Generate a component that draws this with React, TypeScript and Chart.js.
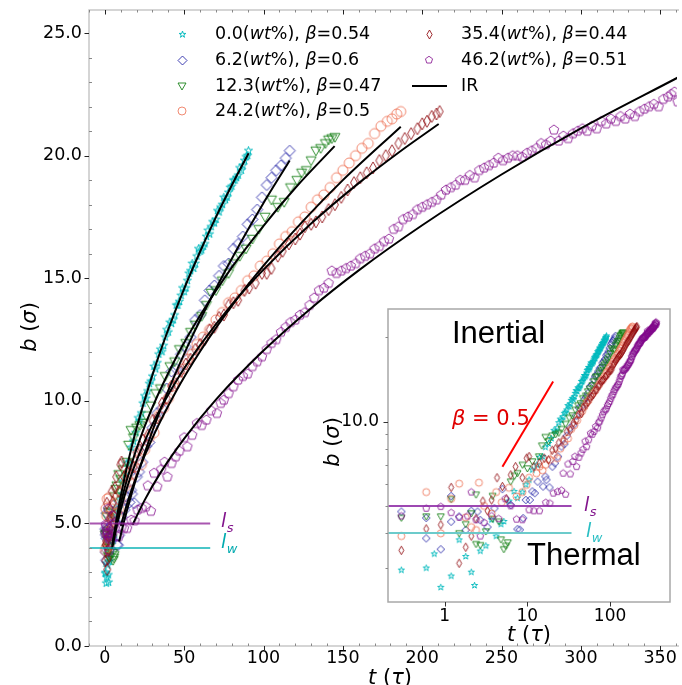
import React, { useEffect, useRef } from 'react';
import { Chart, registerables } from 'chart.js';

Chart.register(...registerables);

type Pt = [number, number];

// ---------------- data ----------------
const seriesNames = ['0.0', '6.2', '12.3', '24.2', '35.4', '46.2'];
const seriesBetas = ['0.54', '0.6', '0.47', '0.5', '0.44', '0.51'];
const fitName = 'IR';

const wt00: Pt[] = [
  [0.3, 2.95], [0.6, 3.0], [0.75, 3.37], [0.9, 2.56], [1.2, 2.81], [1.5, 3.78], [1.8, 3.3], [2.1, 2.9], [2.3, 2.6],
  [2.7, 3.45], [3.15, 3.6], [3.7, 4.46], [4.2, 3.9], [4.8, 4.3], [5.2, 4.4], [6.0, 5.2], [6.9, 5.63], [7.6, 5.33],
  [8.7, 5.6], [9.6, 5.95], [10.5, 6.19], [11.5, 6.72], [13, 7.0], [14, 7.45], [15.3, 7.5], [16.5, 8.1], [18, 8.35],
  [19.5, 8.7], [21, 9.3], [22, 9.2], [23, 9.5], [24, 9.9], [25, 10.2], [26, 10.1], [27, 10.4], [28, 10.7], [29, 10.8],
  [30, 11.0], [31, 11.4], [32, 11.3], [33, 11.55], [34, 11.9], [35, 12.1], [36, 12.0], [37, 12.25], [38, 12.6],
  [39, 12.9], [40, 12.8], [41, 13.2], [42, 13.15], [43, 13.3], [44, 13.5], [45, 13.9], [46, 13.9], [47, 14.05],
  [48, 14.3], [49, 14.6], [50, 14.45], [51, 14.6], [52, 14.9], [53, 15.2], [54, 15.3], [55, 15.6], [56, 15.4],
  [57, 15.6], [58, 15.9], [59, 16.2], [60, 16.1], [61, 16.15], [62, 16.3], [63, 16.4], [64, 16.7], [65, 16.95],
  [66, 16.8], [67, 17.1], [68, 17.3], [69, 17.25], [70, 17.4], [71, 17.75], [72, 17.7], [73, 17.9], [74, 18.0],
  [75, 18.3], [76, 18.2], [77, 18.3], [78, 18.5], [79, 18.7], [80, 18.75], [81, 19.0], [82, 19.0], [83, 19.1],
  [84, 19.2], [85, 19.5], [86, 19.4], [87, 19.6], [88, 19.8], [89, 19.95], [90, 20.0], [90.5, 20.2],
];
const wt62: Pt[] = [
  [0.3, 4.77], [0.6, 4.53], [0.6, 3.83], [0.9, 3.5], [1.2, 4.39], [1.2, 5.42], [1.5, 4.58], [1.8, 4.1], [2.1, 4.8],
  [2.5, 4.77], [2.7, 4.45], [3.3, 4.2], [4.0, 4.9], [5.0, 5.74], [6.3, 5.04], [7.6, 4.13], [8.1, 4.11], [8.9, 4.52],
  [9.6, 5.25], [10.7, 5.25], [11.5, 5.63], [12.3, 5.55], [13.3, 6.1], [15.5, 5.86], [16.5, 6.36], [17, 6.2], [18.5, 5.82],
  [20.1, 6.9], [21.5, 7.1], [23.5, 7.5], [25.9, 8.14], [28, 8.3], [30, 8.9], [33, 9.5], [36, 9.7], [39, 10.5], [42, 11.2],
  [45, 11.3], [48, 11.9], [51, 12.2], [54, 12.6], [57, 13.3], [60, 13.5], [63, 14.1], [66, 14.5], [69, 14.7], [72, 15.1],
  [75, 15.5], [78, 15.6], [81, 16.2], [84, 16.4], [87, 16.7], [90, 17.2], [93, 17.4], [96, 17.8], [99, 18.3], [102, 18.8],
  [105, 19.1], [108, 19.4], [111, 19.6], [114, 19.9], [116.5, 20.2],
];
const wt123: Pt[] = [
  [0.3, 4.53], [0.6, 4.58], [0.9, 4.58], [1.2, 5.28], [1.5, 3.99], [1.8, 4.3], [2.1, 4.7], [2.4, 3.65], [2.4, 5.48],
  [2.7, 3.62], [3.15, 4.05], [3.8, 5.42], [3.8, 4.49], [4.55, 4.39], [4.8, 3.79], [5.2, 3.5], [5.5, 3.6], [5.8, 3.7],
  [6.3, 6.1], [7.0, 6.4], [7.6, 6.54], [8.75, 7.0], [10, 6.8], [11.5, 7.2], [13.8, 7.5], [15, 8.2], [16.5, 8.8], [18, 8.5],
  [20, 8.9], [22, 9.0], [24, 9.1], [26, 9.4], [29, 9.8], [32, 10.3], [35, 10.5], [38, 11.0], [41, 11.4], [44, 11.6],
  [47, 12.1], [51, 12.35], [54, 12.8], [57, 13.1], [61, 13.45], [64, 13.9], [67, 14.4], [70, 14.5], [74, 14.9], [78, 15.2],
  [81, 15.6], [85, 15.9], [89, 16.2], [93, 16.6], [97, 17.0], [101, 17.5], [105, 18.2], [109, 17.9], [113, 18.1],
  [117, 18.7], [121, 19.0], [124, 19.3], [127, 19.4], [130, 19.8], [133, 20.2], [136, 20.3], [139, 20.5], [141, 20.65],
  [143, 20.7], [145, 20.75],
];
const wt242: Pt[] = [
  [0.3, 3.9], [0.6, 5.6], [0.9, 3.99], [1.2, 5.3], [1.5, 6.0], [1.8, 4.55], [2.1, 4.2], [2.4, 4.1], [2.6, 6.05], [3.0, 5.0],
  [3.7, 4.7], [4.2, 5.6], [4.9, 5.15], [6.0, 5.8], [7.4, 5.4], [8.7, 5.6], [9.8, 5.94], [10.5, 6.3], [12.9, 6.54], [14, 6.9],
  [15.3, 6.7], [16.5, 7.0], [18.8, 7.3], [21, 7.6], [23, 7.4], [25, 8.0], [28, 8.5], [31, 8.7], [34, 9.4], [37, 9.7],
  [40, 10.1], [43, 10.6], [46, 10.9], [49, 11.3], [52, 11.7], [55, 11.9], [58, 12.3], [62, 12.6], [66, 12.9], [70, 13.3],
  [74, 13.6], [78, 14.0], [82, 14.2], [86, 14.5], [90, 14.9], [94, 15.1], [98, 15.5], [102, 15.7], [106, 16.0], [110, 16.4],
  [114, 16.7], [118, 16.9], [122, 17.3], [126, 17.5], [130, 17.9], [134, 18.2], [138, 18.4], [142, 18.7], [146, 19.1],
  [150, 19.4], [154, 19.7], [158, 20.0], [162, 20.3], [166, 20.5], [170, 20.9], [174, 21.2], [178, 21.4], [181, 21.5],
  [184, 21.7], [186.5, 21.8],
];
const wt354: Pt[] = [
  [0.3, 3.47], [0.6, 4.14], [0.9, 4.28], [1.2, 5.82], [1.5, 3.12], [1.8, 3.56], [2.1, 3.9], [2.4, 4.5], [2.9, 5.2],
  [3.3, 4.8], [3.7, 5.25], [4.3, 6.3], [5.0, 5.86], [5.6, 5.3], [6.3, 6.45], [7.2, 6.9], [8.7, 6.3], [9.8, 7.4],
  [10.5, 7.5], [12, 6.9], [14, 7.1], [16, 7.4], [18, 7.3], [20, 7.9], [22, 8.0], [24, 8.4], [27, 8.6], [30, 9.2],
  [33, 9.3], [36, 9.9], [39, 10.1], [42, 10.6], [45, 10.7], [48, 11.2], [51, 11.5], [54, 11.7], [57, 12.1], [60, 12.3],
  [63, 12.5], [66, 12.9], [69, 13.0], [72, 13.4], [75, 13.5], [78, 13.9], [81, 14.0], [84, 14.1], [88, 14.5], [91, 14.6],
  [95, 14.8], [99, 15.2], [102, 15.2], [105, 15.4], [109, 15.9], [112, 16.1], [116, 16.4], [120, 16.6], [123, 16.8],
  [126, 17.1], [130, 17.2], [133, 17.3], [137, 17.5], [141, 17.8], [145, 18.0], [149, 18.3], [153, 18.6], [157, 18.9],
  [161, 19.1], [165, 19.3], [169, 19.5], [173, 19.8], [177, 20.0], [181, 20.2], [185, 20.5], [189, 20.7], [193, 20.9],
  [197, 21.1], [200, 21.3], [203, 21.4], [206, 21.6], [209, 21.7], [211, 21.8],
];
const wt462: Pt[] = [
  [0.3, 4.6], [0.6, 4.9], [0.9, 4.97], [1.2, 4.73], [1.5, 4.55], [1.9, 4.6], [2.1, 5.6], [2.4, 4.46], [2.7, 3.9],
  [3.0, 4.36], [3.7, 4.6], [4.5, 4.5], [5.4, 5.3], [6.3, 5.0], [7.4, 4.48], [8.7, 4.46], [10.5, 4.84], [12, 4.8],
  [14, 4.8], [16.7, 5.14], [18.7, 5.11], [20.6, 5.55], [23.2, 5.62], [25.8, 5.68], [27.1, 6.54], [29, 5.5], [31, 7.05],
  [33, 6.5], [35.5, 7.2], [37.6, 7.5], [39.4, 6.9], [42, 7.45], [44.6, 7.72], [47, 7.95], [50, 8.5], [52, 8.13],
  [55, 8.6], [58, 9.08], [61, 9.0], [64, 9.22], [67, 9.6], [70.6, 9.49], [73, 9.9], [75, 10.03], [78, 10.3], [81, 10.58],
  [84, 10.85], [87, 11.0], [90, 11.1], [93, 11.4], [96, 11.6], [99, 11.8], [102, 12.1], [105, 12.35], [108, 12.5],
  [111, 12.8], [114, 13.0], [117, 13.2], [120, 13.3], [123, 13.5], [126, 13.6], [129, 13.9], [132, 14.2], [135, 14.5],
  [138, 14.6], [141, 14.8], [143, 15.3], [146, 15.2], [149, 15.3], [152, 15.4], [155, 15.5], [158, 15.6], [161, 15.8],
  [164, 15.9], [167, 16.0], [170, 16.2], [173, 16.3], [176, 16.5], [179, 16.6], [182, 17.0], [185, 17.1], [188, 17.4],
  [191, 17.5], [194, 17.6], [197, 17.8], [200, 17.9], [203, 18.0], [206, 18.1], [209, 18.2], [212, 18.4], [215, 18.6],
  [218, 18.7], [221, 18.8], [224, 19.0], [227, 19.0], [230, 19.2], [233, 19.1], [236, 19.4], [239, 19.5], [242, 19.6],
  [245, 19.7], [248, 19.9], [251, 19.8], [254, 19.9], [257, 20.0], [260, 20.0], [263, 19.95], [266, 20.1], [269, 20.2],
  [272, 20.3], [275, 20.5], [278, 20.45], [281, 20.6], [283, 21.05], [286, 20.6], [289, 20.8], [292, 20.7], [295, 20.9],
  [298, 21.0], [301, 21.1], [304, 21.0], [307, 21.2], [310, 21.1], [313, 21.4], [316, 21.3], [319, 21.5], [322, 21.4],
  [325, 21.6], [328, 21.5], [331, 21.7], [334, 21.6], [337, 21.8], [340, 21.9], [343, 22.0], [346, 22.1], [349, 22.0],
  [352, 22.3], [355, 22.4], [357, 22.5], [359, 22.6], [361, 22.2],
];

// IR fit curves
const fit00: Pt[] = [[4.5, 3.97], [6, 4.64], [8, 5.42], [10, 6.11], [15, 7.61], [20, 8.89], [30, 11.06], [40, 12.92], [50, 14.58], [60, 16.08], [70, 17.49], [80, 18.79], [90.6, 20.1]];
const fit62: Pt[] = [[9, 4.26], [12, 5.06], [16, 6.02], [20, 6.88], [30, 8.78], [40, 10.43], [55, 12.62], [70, 14.58], [85, 16.39], [100, 18.07], [116.5, 19.8]];
const fit123: Pt[] = [[5, 4.19], [8, 5.23], [12, 6.33], [16, 7.24], [20, 8.05], [30, 9.74], [45, 11.78], [60, 13.48], [80, 15.44], [100, 17.14], [120, 18.68], [144.8, 20.39]];
const fit242: Pt[] = [[10, 4.9], [15, 6.01], [20, 6.94], [30, 8.49], [45, 10.4], [60, 12.01], [80, 13.87], [100, 15.51], [125, 17.34], [150, 19.0], [186.5, 21.18]];
const fit354: Pt[] = [[5, 4.11], [8, 5.05], [12, 6.04], [16, 6.86], [20, 7.56], [30, 9.04], [45, 10.81], [60, 12.26], [80, 13.92], [100, 15.35], [130, 17.23], [160, 18.88], [185, 20.12], [210.4, 21.29]];
const fit462: Pt[] = [[17.5, 4.95], [25, 5.94], [35, 7.06], [50, 8.46], [70, 10.05], [100, 12.05], [130, 13.78], [160, 15.32], [200, 17.16], [250, 19.23], [300, 21.11], [361, 23.18]];

// reference levels and slope guide
const lsValue = 5;
const lwValue = 4;
const lsLineMain: Pt[] = [[-10, lsValue], [66.4, lsValue]];
const lwLineMain: Pt[] = [[-10, lwValue], [66.4, lwValue]];
const lsLineInset: Pt[] = [[0.2, lsValue], [34.2, lsValue]];
const lwLineInset: Pt[] = [[0.2, lwValue], [34.2, lwValue]];
const slopeGuide: Pt[] = [[5.0, 6.9], [20.5, 13.9]];

// ticks
const xTicksMain = [0, 50, 100, 150, 200, 250, 300, 350];
const yTicksMain = [0, 5, 10, 15, 20, 25];
const xTicksInset = [1, 10, 100];
const yTicksInset = [10];
const yMinorInset = [3, 4, 5, 6, 7, 8, 9, 20];

// ---------------- styling ----------------
const W = 682;
const H = 685;
const FONT = '"DejaVu Sans", sans-serif';

const colors = [
  'rgba(0,185,190,0.95)',
  'rgba(30,30,165,0.85)',
  'rgba(15,125,15,0.85)',
  'rgba(238,110,80,0.8)',
  'rgba(145,10,15,0.85)',
  'rgba(130,10,140,0.8)',
];
const shapes = ['star', 'diamond', 'tridown', 'circle', 'thin', 'pentagon'];
const mainSizes = [8.5, 11, 10, 10, 12, 10];
const insetSizes = [6.5, 7.5, 7, 7, 8.5, 7];
const legendSizes = [7, 9, 8, 8, 9, 7.5];

function makeMarker(shape: string, color: string, size: number, lw = 1): HTMLCanvasElement {
  const s = Math.ceil(size + 4);
  const c = document.createElement('canvas');
  c.width = s;
  c.height = s;
  const g = c.getContext('2d') as CanvasRenderingContext2D;
  g.strokeStyle = color;
  g.lineWidth = lw;
  g.lineJoin = 'miter';
  const cx = s / 2;
  const cy = s / 2;
  const r = size / 2;
  g.beginPath();
  if (shape === 'circle') {
    g.arc(cx, cy, r, 0, Math.PI * 2);
  } else {
    let pts: Pt[] = [];
    if (shape === 'star') {
      for (let i = 0; i < 10; i++) {
        const a = -Math.PI / 2 + (i * Math.PI) / 5;
        const rr = i % 2 === 0 ? r : r * 0.382;
        pts.push([cx + rr * Math.cos(a), cy + rr * Math.sin(a)]);
      }
    } else if (shape === 'pentagon') {
      for (let i = 0; i < 5; i++) {
        const a = -Math.PI / 2 + (i * 2 * Math.PI) / 5;
        pts.push([cx + r * Math.cos(a), cy + r * Math.sin(a)]);
      }
    } else if (shape === 'diamond') {
      pts = [[cx, cy - r], [cx + r, cy], [cx, cy + r], [cx - r, cy]];
    } else if (shape === 'thin') {
      pts = [[cx, cy - r], [cx + r * 0.58, cy], [cx, cy + r], [cx - r * 0.58, cy]];
    } else if (shape === 'tridown') {
      pts = [[cx - r, cy - r * 0.75], [cx + r, cy - r * 0.75], [cx, cy + r]];
    }
    pts.forEach((p, i) => (i ? g.lineTo(p[0], p[1]) : g.moveTo(p[0], p[1])));
    g.closePath();
  }
  g.stroke();
  return c;
}

type Seg = [string, boolean];
function drawSegs(ctx: CanvasRenderingContext2D, segs: Seg[], x: number, y: number, size: number, color: string, align: 'left' | 'center') {
  const widths = segs.map(([t, it]) => {
    ctx.font = `${it ? 'italic ' : ''}${size}px ${FONT}`;
    return ctx.measureText(t).width;
  });
  const total = widths.reduce((a, b) => a + b, 0);
  let cx = align === 'center' ? x - total / 2 : x;
  ctx.fillStyle = color;
  ctx.textAlign = 'left';
  segs.forEach(([t, it], i) => {
    ctx.font = `${it ? 'italic ' : ''}${size}px ${FONT}`;
    ctx.fillText(t, cx, y);
    cx += widths[i];
  });
}

function drawSubLabel(ctx: CanvasRenderingContext2D, main: string, sub: string, x: number, y: number, size: number, color: string) {
  ctx.fillStyle = color;
  ctx.textAlign = 'left';
  ctx.textBaseline = 'alphabetic';
  ctx.font = `italic ${size}px ${FONT}`;
  ctx.fillText(main, x, y);
  const w = ctx.measureText(main).width;
  ctx.font = `italic ${Math.round(size * 0.7)}px ${FONT}`;
  ctx.fillText(sub, x + w + 0.5, y + size * 0.27);
}

const toXY = (d: Pt[]) => d.map(([x, y]) => ({ x, y }));

function zeroPad(s: any) {
  s.paddingTop = 0;
  s.paddingBottom = 0;
  s.paddingLeft = 0;
  s.paddingRight = 0;
}

export default function App() {
  const mainRef = useRef<HTMLCanvasElement>(null);
  const insetRef = useRef<HTMLCanvasElement>(null);

  useEffect(() => {
    const allData = [wt00, wt62, wt123, wt242, wt354, wt462];
    const fits = [fit00, fit62, fit123, fit242, fit354, fit462];
    const mainMarkers = shapes.map((s, i) => makeMarker(s, colors[i], mainSizes[i], 1));
    const insetMarkers = shapes.map((s, i) => makeMarker(s, colors[i], insetSizes[i], 1));
    const legendMarkers = shapes.map((s, i) => makeMarker(s, colors[i], legendSizes[i], 1));

    const mainPlugin = {
      id: 'mainDecor',
      beforeDraw(chart: any) {
        const ctx = chart.ctx as CanvasRenderingContext2D;
        ctx.save();
        ctx.fillStyle = '#fff';
        ctx.fillRect(0, 0, W, H);
        ctx.restore();
      },
      afterDraw(chart: any) {
        const ctx = chart.ctx as CanvasRenderingContext2D;
        const ca = chart.chartArea;
        const xs = chart.scales.x;
        const ys = chart.scales.y;
        ctx.save();
        // spines (left, top, bottom)
        ctx.strokeStyle = '#c8c8c8';
        ctx.lineWidth = 1.5;
        ctx.beginPath();
        ctx.moveTo(ca.right + 2, ca.top);
        ctx.lineTo(ca.left, ca.top);
        ctx.lineTo(ca.left, ca.bottom);
        ctx.lineTo(ca.right + 2, ca.bottom);
        ctx.stroke();
        // ticks
        ctx.lineWidth = 1;
        for (let v = -10; v <= 360; v += 10) {
          const px = Math.round(xs.getPixelForValue(v)) + 0.5;
          const major = xTicksMain.includes(v);
          ctx.strokeStyle = major ? '#222' : '#888';
          ctx.beginPath();
          if (major) {
            ctx.moveTo(px, ca.bottom);
            ctx.lineTo(px, ca.bottom + 4.5);
            ctx.moveTo(px, ca.top);
            ctx.lineTo(px, ca.top + 4.5);
          } else {
            ctx.moveTo(px, ca.bottom);
            ctx.lineTo(px, ca.bottom - 2.5);
            ctx.moveTo(px, ca.top);
            ctx.lineTo(px, ca.top + 2.5);
          }
          ctx.stroke();
        }
        for (let v = 0; v <= 25; v += 1) {
          const py = Math.round(ys.getPixelForValue(v)) + 0.5;
          const major = yTicksMain.includes(v);
          ctx.strokeStyle = major ? '#222' : '#888';
          ctx.beginPath();
          if (major) {
            ctx.moveTo(ca.left - 4.5, py);
            ctx.lineTo(ca.left, py);
          } else {
            ctx.moveTo(ca.left, py);
            ctx.lineTo(ca.left + 3, py);
          }
          ctx.stroke();
        }
        // axis titles
        ctx.textBaseline = 'middle';
        ctx.save();
        ctx.translate(31, 327);
        ctx.rotate(-Math.PI / 2);
        drawSegs(ctx, [['b', true], [' (', false], ['σ', true], [')', false]], 0, 0, 21, '#000', 'center');
        ctx.restore();
        ctx.textBaseline = 'alphabetic';
        drawSegs(ctx, [['t', true], [' (', false], ['τ', true], [')', false]], 390, 684, 21, '#000', 'center');

        // l_s / l_w labels
        drawSubLabel(ctx, 'l', 's', 221, 527, 19, 'rgb(130,20,140)');
        drawSubLabel(ctx, 'l', 'w', 221, 548, 19, 'rgb(0,170,175)');

        // legend
        const rowsY = [34, 60, 86, 111];
        const cols = [
          { mx: 182, tx: 215 },
          { mx: 429, tx: 461 },
        ];
        const legendFont = 17.5;
        for (let i = 0; i < 6; i++) {
          const col = i < 4 ? cols[0] : cols[1];
          const y = rowsY[i < 4 ? i : i - 4];
          const m = legendMarkers[i];
          ctx.drawImage(m, Math.round(col.mx - m.width / 2), Math.round(y - m.height / 2));
          ctx.textBaseline = 'middle';
          drawSegs(
            ctx,
            [[seriesNames[i] + '(', false], ['wt', true], ['%), ', false], ['β', true], ['=' + seriesBetas[i], false]],
            col.tx,
            y,
            legendFont,
            '#000',
            'left'
          );
        }
        ctx.strokeStyle = '#000';
        ctx.lineWidth = 2;
        ctx.beginPath();
        ctx.moveTo(412, rowsY[2]);
        ctx.lineTo(447, rowsY[2]);
        ctx.stroke();
        ctx.textBaseline = 'middle';
        drawSegs(ctx, [[fitName, false]], cols[1].tx, rowsY[2], legendFont, '#000', 'left');
        ctx.restore();
      },
    };

    const mainDatasets: any[] = [];
    allData.forEach((d, i) => {
      mainDatasets.push({
        data: toXY(d),
        pointStyle: mainMarkers[i],
        pointRadius: 4,
        showLine: false,
        order: 20 - i,
      });
    });
    fits.forEach((f) => {
      mainDatasets.push({
        data: toXY(f),
        showLine: true,
        borderColor: '#000',
        borderWidth: 2,
        pointRadius: 0,
        cubicInterpolationMode: 'monotone',
        fill: false,
        order: 2,
      });
    });
    mainDatasets.push({ data: toXY(lsLineMain), showLine: true, borderColor: 'rgba(140,30,150,0.75)', borderWidth: 2, pointRadius: 0, order: 1 });
    mainDatasets.push({ data: toXY(lwLineMain), showLine: true, borderColor: 'rgba(0,175,178,0.95)', borderWidth: 1.5, pointRadius: 0, order: 1 });

    const tickFont = { family: FONT, size: 17.5 };

    const mainChart = new Chart(mainRef.current as HTMLCanvasElement, {
      type: 'scatter',
      data: { datasets: mainDatasets },
      options: {
        responsive: false,
        animation: false,
        devicePixelRatio: 1,
        events: [],
        layout: { padding: { left: 0, top: 10, right: 0, bottom: 0 } },
        plugins: { legend: { display: false }, tooltip: { enabled: false } },
        scales: {
          x: {
            type: 'linear',
            min: -10,
            max: 360.6,
            grid: { display: false, drawTicks: false },
            border: { display: false },
            ticks: { font: tickFont, color: '#000', padding: 2, maxRotation: 0, autoSkip: false, callback: (v: any) => String(v) },
            afterBuildTicks: (s: any) => {
              s.ticks = xTicksMain.map((v) => ({ value: v }));
            },
            afterFit: (s: any) => {
              s.height = 39;
              zeroPad(s);
            },
          },
          y: {
            type: 'linear',
            min: 0,
            max: 25.94,
            grid: { display: false, drawTicks: false },
            border: { display: false },
            ticks: { font: tickFont, color: '#000', padding: 7, autoSkip: false, callback: (v: any) => Number(v).toFixed(1) },
            afterBuildTicks: (s: any) => {
              s.ticks = yTicksMain.map((v) => ({ value: v }));
            },
            afterFit: (s: any) => {
              s.width = 89;
              zeroPad(s);
            },
          },
        },
      } as any,
      plugins: [mainPlugin],
    });

    // ---------------- inset ----------------
    const insetPlugin = {
      id: 'insetDecor',
      beforeDraw(chart: any) {
        const ctx = chart.ctx as CanvasRenderingContext2D;
        const ca = chart.chartArea;
        ctx.save();
        ctx.fillStyle = '#fff';
        ctx.fillRect(ca.left, ca.top, ca.right - ca.left, ca.bottom - ca.top);
        ctx.restore();
      },
      afterDraw(chart: any) {
        const ctx = chart.ctx as CanvasRenderingContext2D;
        const ca = chart.chartArea;
        const xs = chart.scales.x;
        const ys = chart.scales.y;
        ctx.save();
        ctx.strokeStyle = '#a8a8a8';
        ctx.lineWidth = 1.5;
        ctx.strokeRect(ca.left, ca.top, ca.right - ca.left, ca.bottom - ca.top);
        ctx.lineWidth = 1;
        ctx.strokeStyle = '#333';
        xTicksInset.forEach((v) => {
          const px = Math.round(xs.getPixelForValue(v)) + 0.5;
          ctx.beginPath();
          ctx.moveTo(px, ca.bottom);
          ctx.lineTo(px, ca.bottom + 4.5);
          ctx.stroke();
        });
        yTicksInset.forEach((v) => {
          const py = Math.round(ys.getPixelForValue(v)) + 0.5;
          ctx.beginPath();
          ctx.moveTo(ca.left - 4.5, py);
          ctx.lineTo(ca.left, py);
          ctx.stroke();
        });
        ctx.strokeStyle = '#888';
        yMinorInset.forEach((v) => {
          const py = Math.round(ys.getPixelForValue(v)) + 0.5;
          ctx.beginPath();
          ctx.moveTo(ca.left - 2.5, py);
          ctx.lineTo(ca.left, py);
          ctx.stroke();
        });
        // titles
        ctx.textBaseline = 'middle';
        ctx.save();
        ctx.translate(334, 442);
        ctx.rotate(-Math.PI / 2);
        drawSegs(ctx, [['b', true], [' (', false], ['σ', true], [')', false]], 0, 0, 21, '#000', 'center');
        ctx.restore();
        ctx.textBaseline = 'alphabetic';
        drawSegs(ctx, [['t', true], [' (', false], ['τ', true], [')', false]], 529, 641, 21, '#000', 'center');
        // annotations
        ctx.fillStyle = '#000';
        ctx.font = '31px "Liberation Sans", Arial, sans-serif';
        ctx.textAlign = 'left';
        ctx.fillText('Inertial', 452, 343);
        ctx.fillText('Thermal', 527, 565);
        drawSegs(ctx, [['β', true], [' = 0.5', false]], 452, 425, 21, '#e00000', 'left');
        drawSubLabel(ctx, 'l', 's', 584, 511, 19, 'rgb(130,20,140)');
        drawSubLabel(ctx, 'l', 'w', 586, 537, 19, 'rgb(40,190,195)');
        ctx.restore();
      },
    };

    const insetDatasets: any[] = [];
    allData.forEach((d, i) => {
      insetDatasets.push({
        data: toXY(d),
        pointStyle: insetMarkers[i],
        pointRadius: 3,
        showLine: false,
        order: 20 - i,
      });
    });
    insetDatasets.push({ data: toXY(lsLineInset), showLine: true, borderColor: 'rgba(140,40,165,0.85)', borderWidth: 2, pointRadius: 0, order: 1 });
    insetDatasets.push({ data: toXY(lwLineInset), showLine: true, borderColor: 'rgba(100,200,200,0.95)', borderWidth: 2, pointRadius: 0, order: 1 });
    insetDatasets.push({ data: toXY(slopeGuide), showLine: true, borderColor: '#ff0000', borderWidth: 2, pointRadius: 0, order: 0 });

    const insetChart = new Chart(insetRef.current as HTMLCanvasElement, {
      type: 'scatter',
      data: { datasets: insetDatasets },
      options: {
        responsive: false,
        animation: false,
        devicePixelRatio: 1,
        events: [],
        layout: { padding: { left: 300, top: 309, right: 12, bottom: 0 } },
        plugins: { legend: { display: false }, tooltip: { enabled: false } },
        scales: {
          x: {
            type: 'logarithmic',
            min: 0.207,
            max: 530,
            grid: { display: false, drawTicks: false },
            border: { display: false },
            ticks: { font: { family: FONT, size: 17 }, color: '#000', padding: 4, maxRotation: 0, autoSkip: false, callback: (v: any) => String(v) },
            afterBuildTicks: (s: any) => {
              s.ticks = xTicksInset.map((v) => ({ value: v }));
            },
            afterFit: (s: any) => {
              s.height = 83;
              zeroPad(s);
            },
          },
          y: {
            type: 'logarithmic',
            min: 2.27,
            max: 25.2,
            grid: { display: false, drawTicks: false },
            border: { display: false },
            ticks: { font: { family: FONT, size: 17 }, color: '#000', padding: 9, autoSkip: false, callback: (v: any) => Number(v).toFixed(1) },
            afterBuildTicks: (s: any) => {
              s.ticks = yTicksInset.map((v) => ({ value: v }));
            },
            afterFit: (s: any) => {
              s.width = 88;
              zeroPad(s);
            },
          },
        },
      } as any,
      plugins: [insetPlugin],
    });

    return () => {
      mainChart.destroy();
      insetChart.destroy();
    };
  }, []);

  const canvasStyle: React.CSSProperties = { position: 'absolute', left: 0, top: 0, width: W, height: H };
  return (
    <div style={{ position: 'fixed', left: 0, top: 0, width: W, height: H, background: '#fff' }}>
      <canvas ref={mainRef} width={W} height={H} style={canvasStyle} />
      <canvas ref={insetRef} width={W} height={H} style={canvasStyle} />
    </div>
  );
}
